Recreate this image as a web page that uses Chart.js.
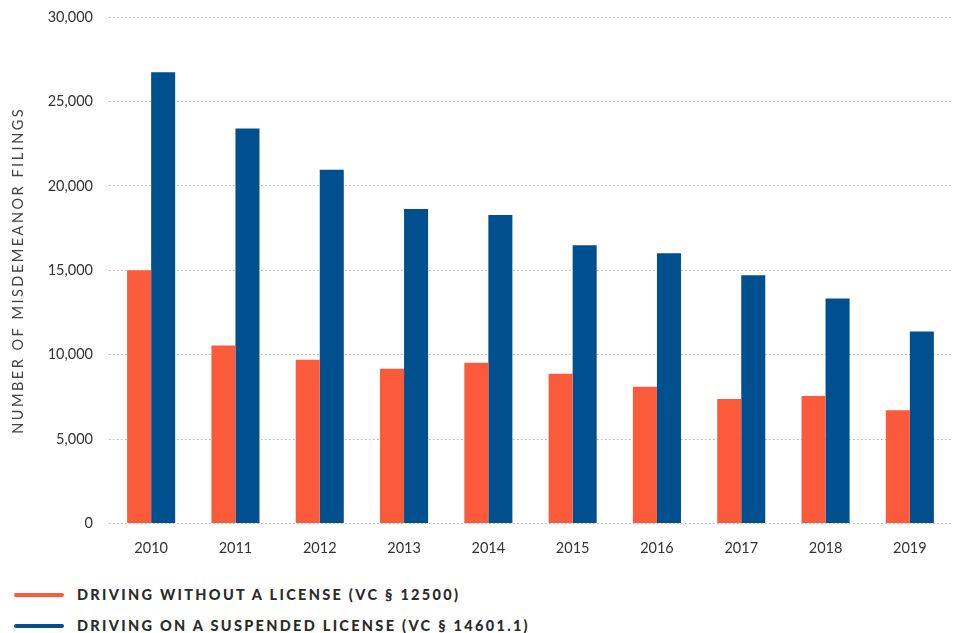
<!DOCTYPE html>
<html>
<head>
<meta charset="utf-8">
<script src="https://cdn.jsdelivr.net/npm/chart.js@4.4.1/dist/chart.umd.min.js"></script>
<style>
  html, body { margin: 0; padding: 0; background: #fff; }
  body { width: 966px; height: 633px; position: relative; overflow: hidden; font-family: Lato, "Open Sans", sans-serif; }
  #wrap { position: absolute; left: 0; top: 0; width: 966px; height: 579px; }
  #legend { position: absolute; left: 14px; top: 579px; }
  .item { display: flex; align-items: center; height: 31px; }
  .swatch { width: 50px; height: 4px; border-radius: 2px; margin-right: 13px; }
  .lab { font-weight: 900; font-size: 14.5px; letter-spacing: 2.3px; color: #2b2b2b; }
</style>
</head>
<body>
<div id="wrap"><canvas id="c"></canvas></div>
<div id="legend"></div>
<script>
const years = ["2010","2011","2012","2013","2014","2015","2016","2017","2018","2019"];
const withoutLicense = [15000, 10550, 9700, 9170, 9530, 8870, 8100, 7380, 7560, 6710];
const suspendedLicense = [26730, 23400, 20950, 18630, 18270, 16490, 16010, 14700, 13330, 11370];
const seriesNames = ["DRIVING WITHOUT A LICENSE (VC § 12500)", "DRIVING ON A SUSPENDED LICENSE (VC § 14601.1)"];
const seriesColors = ["#FB5A3B", "#00508F"];
const yTitle = "NUMBER OF MISDEMEANOR FILINGS";

const spacedTitle = {
  id: 'spacedTitle',
  beforeDraw(chart) {
    const s = chart.scales.y;
    if (s && !s._spacedWrapped) {
      const orig = s.drawTitle;
      s.drawTitle = function () {
        const c = this.ctx;
        c.save();
        c.letterSpacing = '2.5px';
        orig.call(this);
        c.restore();
      };
      s._spacedWrapped = true;
    }
  }
};

const chart = new Chart(document.getElementById('c'), {
  type: 'bar',
  data: {
    labels: years,
    datasets: [
      { label: seriesNames[0], data: withoutLicense, backgroundColor: seriesColors[0], borderWidth: 0 },
      { label: seriesNames[1], data: suspendedLicense, backgroundColor: seriesColors[1], borderWidth: 0 }
    ]
  },
  options: {
    responsive: true,
    maintainAspectRatio: false,
    animation: false,
    categoryPercentage: 0.57,
    barPercentage: 1.0,
    layout: { padding: { top: 17, right: 14, bottom: 6, left: 0 } },
    plugins: { legend: { display: false }, tooltip: { enabled: false } },
    scales: {
      x: {
        grid: { display: false, drawTicks: false },
        border: { display: false },
        ticks: { color: '#333', padding: 16, font: { family: 'Lato', size: 14.5 } }
      },
      y: {
        min: 0, max: 30000,
        afterFit(s) { s.width = 109; s.paddingTop = 0; s.paddingBottom = 0; },
        ticks: {
          stepSize: 5000, color: '#333', padding: 16,
          font: { family: 'Lato', size: 14.5 },
          callback: v => v.toLocaleString('en-US')
        },
        grid: { color: '#b5b5b5', lineWidth: 1, drawTicks: false },
        border: { display: false, dash: [1.5, 2.5] },
        title: {
          display: true, text: yTitle, color: '#444',
          font: { family: 'Lato', size: 14.5 },
          padding: { top: 10, bottom: 0 }
        }
      }
    }
  },
  plugins: [spacedTitle]
});

const leg = document.getElementById('legend');
chart.data.datasets.forEach(ds => {
  const it = document.createElement('div'); it.className = 'item';
  const sw = document.createElement('div'); sw.className = 'swatch'; sw.style.background = ds.backgroundColor;
  const lb = document.createElement('div'); lb.className = 'lab'; lb.textContent = ds.label;
  it.appendChild(sw); it.appendChild(lb); leg.appendChild(it);
});
</script>
</body>
</html>
